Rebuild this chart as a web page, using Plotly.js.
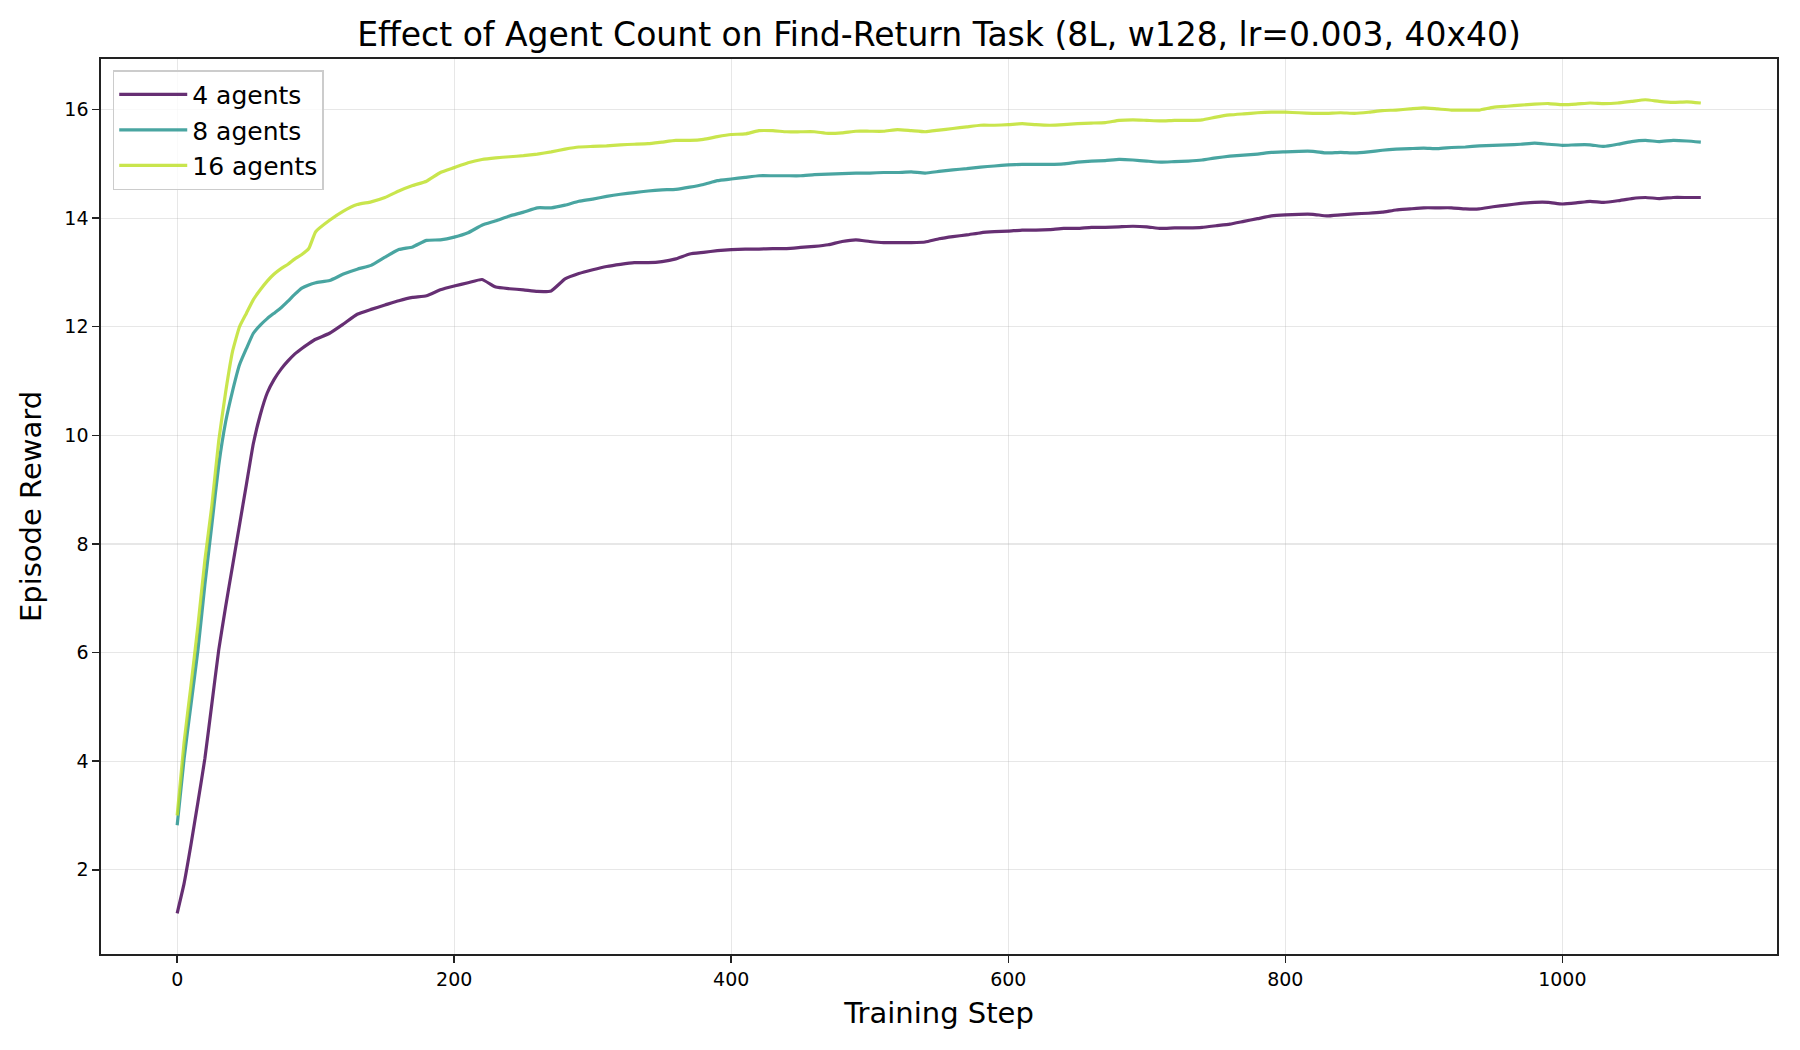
<!DOCTYPE html>
<html>
<head>
<meta charset="utf-8">
<script src="https://cdn.plot.ly/plotly-3.0.1.min.js"></script>
<style>html,body{margin:0;padding:0;background:#fff;}#chart{width:1800px;height:1050px;}</style>
</head>
<body>
<div id="chart"></div>
<script>
// Training steps (x values)
const steps = [0,5,10,15,20,25,30,35,40,45,50,55,60,65,70,75,80,85,90,95,100,
110,120,130,140,150,160,170,180,190,200,
210,220,230,240,250,260,270,280,290,300,
310,320,330,340,350,360,370,380,390,400,
410,420,430,440,450,460,470,480,490,500,
510,520,530,540,550,560,570,580,590,600,
610,620,630,640,650,660,670,680,690,700,
710,720,730,740,750,760,770,780,790,800,
810,820,830,840,850,860,870,880,890,900,
910,920,930,940,950,960,970,980,990,1000,
1010,1020,1030,1040,1050,1060,1070,1080,1090,1100];

const agents4 = [1.20,1.75,2.47,3.25,4.05,5.05,6.05,6.85,7.60,8.35,9.10,9.85,10.38,10.78,11.03,11.22,11.37,11.50,11.60,11.69,11.77,
11.88,12.05,12.23,12.32,12.40,12.48,12.54,12.57,12.68,12.75,
12.81,12.87,12.73,12.70,12.68,12.65,12.66,12.88,12.98,13.05,
13.11,13.15,13.18,13.18,13.20,13.25,13.34,13.37,13.40,13.42,
13.43,13.43,13.44,13.44,13.46,13.48,13.51,13.57,13.60,13.57,
13.55,13.55,13.55,13.56,13.62,13.66,13.69,13.73,13.75,13.76,
13.78,13.78,13.79,13.81,13.81,13.83,13.83,13.84,13.85,13.84,
13.81,13.82,13.82,13.83,13.86,13.89,13.94,13.99,14.04,14.06,
14.07,14.07,14.04,14.06,14.08,14.09,14.11,14.15,14.17,14.19,
14.19,14.19,14.17,14.17,14.21,14.24,14.27,14.29,14.29,14.26,
14.28,14.31,14.29,14.32,14.36,14.38,14.36,14.38,14.38,14.38];

const agents8 = [2.82,4.05,5.05,6.05,7.25,8.35,9.45,10.25,10.82,11.30,11.60,11.88,12.03,12.15,12.25,12.35,12.47,12.60,12.71,12.77,12.81,
12.85,12.97,13.06,13.13,13.28,13.42,13.47,13.59,13.60,13.65,
13.73,13.87,13.95,14.04,14.11,14.19,14.19,14.24,14.31,14.35,
14.40,14.44,14.47,14.50,14.52,14.53,14.57,14.62,14.69,14.72,
14.75,14.78,14.78,14.78,14.78,14.80,14.81,14.82,14.83,14.83,
14.84,14.84,14.85,14.83,14.86,14.89,14.91,14.94,14.96,14.98,
14.99,14.99,14.99,15.00,15.03,15.05,15.06,15.08,15.07,15.05,
15.03,15.04,15.05,15.07,15.11,15.14,15.16,15.18,15.21,15.22,
15.23,15.23,15.20,15.21,15.20,15.22,15.25,15.27,15.28,15.29,
15.28,15.30,15.31,15.33,15.34,15.35,15.36,15.38,15.36,15.34,
15.35,15.35,15.32,15.36,15.41,15.43,15.41,15.43,15.42,15.40];

const agents16 = [3.00,4.35,5.40,6.50,7.70,8.70,9.90,10.80,11.55,12.00,12.25,12.50,12.68,12.84,12.97,13.07,13.15,13.25,13.33,13.44,13.75,
13.96,14.13,14.25,14.30,14.38,14.50,14.60,14.68,14.84,14.93,
15.02,15.08,15.11,15.13,15.15,15.18,15.22,15.27,15.31,15.32,
15.33,15.35,15.36,15.37,15.40,15.43,15.43,15.45,15.50,15.54,
15.55,15.61,15.61,15.59,15.59,15.59,15.56,15.57,15.60,15.60,
15.60,15.63,15.61,15.59,15.62,15.65,15.68,15.71,15.71,15.72,
15.74,15.72,15.71,15.72,15.74,15.75,15.76,15.80,15.81,15.80,
15.79,15.80,15.80,15.81,15.86,15.90,15.92,15.94,15.95,15.95,
15.94,15.93,15.93,15.94,15.93,15.95,15.98,15.99,16.01,16.03,
16.01,15.99,15.99,15.99,16.04,16.06,16.08,16.10,16.11,16.09,
16.10,16.12,16.11,16.12,16.15,16.18,16.15,16.13,16.14,16.12];

const seriesNames = ['4 agents','8 agents','16 agents'];
const seriesColors = ['rgba(68,1,84,0.82)','rgba(33,145,140,0.82)','rgba(189,223,38,0.82)'];
const seriesValues = [agents4, agents8, agents16];

const xTicks = [0,200,400,600,800,1000];
const yTicks = [2,4,6,8,10,12,14,16];

const FONT = 'DejaVu Sans, Liberation Sans, sans-serif';

const traces = seriesValues.map((vals, i) => ({
  x: steps, y: vals, type: 'scatter', mode: 'lines',
  name: seriesNames[i], legendgroup: 'g' + i,
  line: {color: seriesColors[i], width: 3.2, shape: 'spline', smoothing: 0.4}
}));

const axisCommon = {
  showline: true, mirror: true, linecolor: '#222', linewidth: 1.7,
  ticks: 'outside', ticklen: 7, tickwidth: 1.5, tickcolor: '#222',
  showgrid: true, gridcolor: 'rgba(176,176,176,0.3)', gridwidth: 1.2,
  zeroline: false, tickfont: {family: FONT, size: 19, color: '#000'}
};

const layout = {
  width: 1800, height: 1050,
  margin: {l: 101, r: 23, t: 59, b: 96},
  paper_bgcolor: '#fff', plot_bgcolor: '#fff',
  font: {family: FONT, color: '#000'},
  title: {text: 'Effect of Agent Count on Find-Return Task (8L, w128, lr=0.003, 40x40)',
          font: {family: FONT, size: 33, color: '#000'},
          x: 0.5, xref: 'paper', xanchor: 'center', y: 0.967, yref: 'container', yanchor: 'middle'},
  xaxis: Object.assign({}, axisCommon, {
    range: [-55, 1155], tickvals: xTicks, ticktext: xTicks.map(String),
    title: {text: 'Training Step', font: {family: FONT, size: 29, color: '#000'}, standoff: 14}
  }),
  yaxis: Object.assign({}, axisCommon, {
    range: [0.45, 16.93], tickvals: yTicks, ticktext: yTicks.map(String),
    title: {text: 'Episode Reward', font: {family: FONT, size: 29, color: '#000'}, standoff: 14}
  }),
  showlegend: true,
  legend: {
    x: 0.007, y: 0.9875, xanchor: 'left', yanchor: 'top',
    bgcolor: 'rgba(255,255,255,0.8)', bordercolor: '#cccccc', borderwidth: 1.5,
    font: {family: FONT, size: 25, color: '#000'},
    tracegroupgap: 2, traceorder: 'normal', itemwidth: 68
  }
};

Plotly.newPlot('chart', traces, layout, {displayModeBar: false, staticPlot: true});
</script>
</body>
</html>
